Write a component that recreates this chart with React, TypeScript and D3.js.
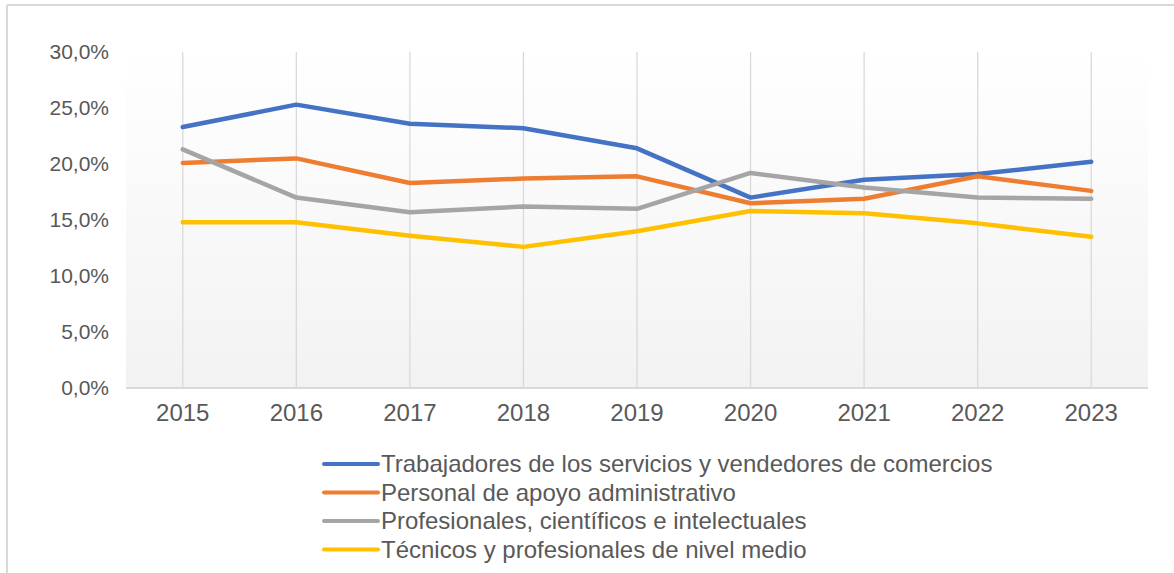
import { useEffect, useRef } from "react";
import * as d3 from "d3";

const years = ["2015", "2016", "2017", "2018", "2019", "2020", "2021", "2022", "2023"];
const trabajadores = [23.3, 25.3, 23.6, 23.2, 21.4, 17.0, 18.6, 19.1, 20.2];
const apoyoAdmin = [20.1, 20.5, 18.3, 18.7, 18.9, 16.5, 16.9, 18.9, 17.6];
const profesionales = [21.3, 17.0, 15.7, 16.2, 16.0, 19.2, 17.9, 17.0, 16.9];
const tecnicos = [14.8, 14.8, 13.6, 12.6, 14.0, 15.8, 15.6, 14.7, 13.5];
const yTicks = [0, 5, 10, 15, 20, 25, 30];

const seriesNames = [
  "Trabajadores de los servicios y vendedores de comercios",
  "Personal de apoyo administrativo",
  "Profesionales, científicos e intelectuales",
  "Técnicos y profesionales de nivel medio",
];
const seriesColors = ["#4472C4", "#ED7D31", "#A5A5A5", "#FFC000"];

export default function App() {
  const svgRef = useRef<SVGSVGElement>(null);
  const width = 1174, height = 573;

  useEffect(() => {
    const svg = d3.select(svgRef.current);
    svg.selectAll("*").remove();

    const font = "'Liberation Sans', Arial, Helvetica, sans-serif";
    const left = 126, right = 1148, top = 52, bottom = 388;

    // outer frame (left + top edges only visible)
    svg.append("line").attr("x1", 7).attr("x2", 7).attr("y1", 5).attr("y2", height)
      .attr("stroke", "#d9d9d9").attr("stroke-width", 2);
    svg.append("line").attr("x1", 7).attr("x2", width).attr("y1", 5).attr("y2", 5)
      .attr("stroke", "#d9d9d9").attr("stroke-width", 2);

    const x = d3.scaleBand().domain(years).range([left, right]);
    const y = d3.scaleLinear().domain([0, 30]).range([bottom, top]);
    const cx = (d: string) => (x(d) ?? 0) + x.bandwidth() / 2;

    // plot background gradient
    const grad = svg.append("defs").append("linearGradient")
      .attr("id", "plotBg").attr("x1", 0).attr("y1", 0).attr("x2", 0).attr("y2", 1);
    grad.append("stop").attr("offset", "0%").attr("stop-color", "#ffffff");
    grad.append("stop").attr("offset", "100%").attr("stop-color", "#f2f2f2");
    svg.append("rect").attr("x", left).attr("y", y(30)).attr("width", right - left)
      .attr("height", bottom - y(30)).attr("fill", "url(#plotBg)");

    // vertical gridlines
    svg.append("g").selectAll("line").data(years).join("line")
      .attr("x1", cx).attr("x2", cx).attr("y1", y(30)).attr("y2", bottom)
      .attr("stroke", "#d9d9d9").attr("stroke-width", 1.3);

    // baseline
    svg.append("line").attr("x1", left).attr("x2", right).attr("y1", bottom).attr("y2", bottom)
      .attr("stroke", "#d9d9d9").attr("stroke-width", 2);

    // y tick labels
    svg.append("g").selectAll("text").data(yTicks).join("text")
      .attr("x", 109).attr("y", d => y(d)).attr("dy", "0.35em")
      .attr("text-anchor", "end").attr("font-family", font).attr("font-size", 21)
      .attr("fill", "#595959")
      .text(d => d3.format(".1f")(d).replace(".", ",") + "%");

    // x tick labels
    svg.append("g").selectAll("text").data(years).join("text")
      .attr("x", cx).attr("y", 421)
      .attr("text-anchor", "middle").attr("font-family", font).attr("font-size", 24)
      .attr("fill", "#595959").text(d => d);

    const seriesValues = [trabajadores, apoyoAdmin, profesionales, tecnicos];
    const line = d3.line<number>()
      .x((_, i) => cx(years[i]))
      .y(d => y(d));

    svg.append("g").selectAll("path").data(seriesValues).join("path")
      .attr("d", d => line(d))
      .attr("fill", "none")
      .attr("stroke", (_, i) => seriesColors[i])
      .attr("stroke-width", 4.5)
      .attr("stroke-linejoin", "round")
      .attr("stroke-linecap", "round");

    // legend
    const legend = svg.append("g").selectAll("g").data(seriesNames).join("g")
      .attr("transform", (_, i) => `translate(323, ${464 + i * 28.5})`);
    legend.append("line").attr("x1", 1).attr("x2", 55).attr("y1", 0).attr("y2", 0)
      .attr("stroke", (_, i) => seriesColors[i]).attr("stroke-width", 4)
      .attr("stroke-linecap", "round");
    legend.append("text").attr("x", 58).attr("y", 0).attr("dy", "0.35em")
      .attr("font-family", font).attr("font-size", 24).attr("fill", "#595959")
      .text(d => d);
  }, []);

  return (
    <svg ref={svgRef} width={width} height={height}
      style={{ position: "absolute", left: 0, top: 0, background: "#fff" }} />
  );
}
